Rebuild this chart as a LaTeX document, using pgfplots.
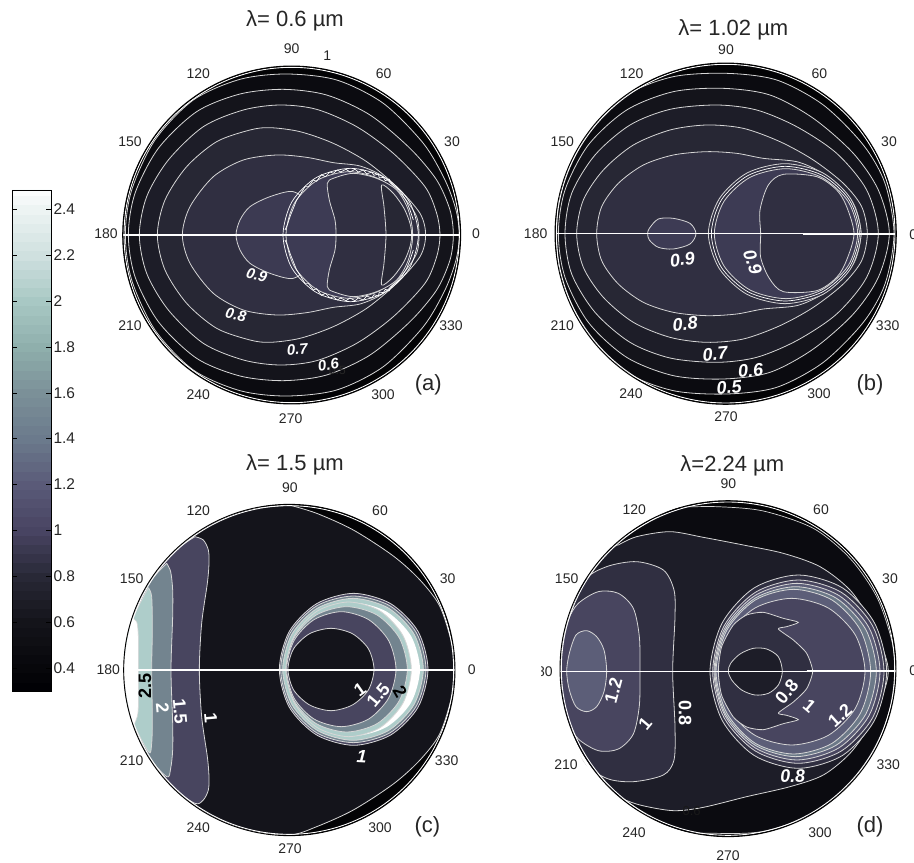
\documentclass[border=0pt]{standalone}
\usepackage{fontspec}
\setmainfont{Liberation Sans}
\usepackage{pgfplots}
\pgfplotsset{compat=1.18}
\definecolor{lc}{HTML}{D6D6D6}
\definecolor{k0}{HTML}{030305}
\definecolor{k1}{HTML}{0B0B10}
\definecolor{k2}{HTML}{14141B}
\definecolor{k3}{HTML}{1D1D28}
\definecolor{k4}{HTML}{272734}
\definecolor{k5}{HTML}{302F41}
\definecolor{k6}{HTML}{3D3B54}
\definecolor{p1}{HTML}{48455F}
\definecolor{p2}{HTML}{5C5E78}
\definecolor{sl}{HTML}{73848F}
\definecolor{te}{HTML}{AECDCA}
\newcommand\cont[2]{\addplot[fill=#1,draw=lc,line width=.8pt,smooth cycle] coordinates {#2};}
\newcommand\ctr[1]{\addplot[draw=white,line width=.7pt,smooth cycle] coordinates {#1};}
\newcommand\wig[1]{\addplot[draw=white,line width=.7pt] coordinates {#1};}
\newcommand\tl[3]{\node[font=\fontsize{14}{16}\selectfont,text=black!85] at (#1,#2) {#3};}
\newcommand\ttl[3]{\node[font=\fontsize{22}{24}\selectfont,text=black!85] at (#1,#2) {#3};}
\newcommand\cl[5]{\node[font=\fontsize{#1}{#1}\selectfont\bfseries\itshape,text=white,rotate=#4] at (#2,#3) {#5};}
\newcommand\rimm[3]{\draw[white,line width=3pt] (axis cs:#1,#2) circle[radius=#3+6];
  \draw[white,line width=.9pt] (axis cs:#1,#2) circle[radius=#3-4];
  \draw[black,line width=.9pt] (axis cs:#1,#2) circle[radius=#3];}
\pgfplotsset{pan/.style={hide axis,scale only axis,clip=false,y dir=reverse,ymin=0,ymax=1200,xmin=0,height=400pt,anchor=south west}}
\begin{document}
\begin{tikzpicture}
\useasboundingbox (0,0) rectangle (914pt,863pt);
%% colour bar
\begin{axis}[at={(12.5pt,172pt)},anchor=south west,scale only axis,width=38.5pt,height=501pt,
  xmin=-0.5,xmax=1.5,ymin=0.3,ymax=2.484,xtick=\empty,
  ytick={0.4,0.6,0.8,1,1.2,1.4,1.6,1.8,2,2.2,2.4},
  ytick pos=both,yticklabel pos=right,tick align=inside,major tick length=5pt,
  tick style={black,line width=.5pt},axis line style={black,line width=.8pt},
  /pgf/number format/assume math mode=true,
  yticklabel style={font=\fontsize{15.5}{17}\selectfont,text=black!85,xshift=-1pt},
  colormap={cb}{rgb255(30pt)=(0,0,4);rgb255(60pt)=(20,20,26);rgb255(80pt)=(40,40,54);rgb255(100pt)=(72,68,98);rgb255(120pt)=(90,90,120);rgb255(140pt)=(107,122,140);rgb255(160pt)=(123,144,152);rgb255(180pt)=(143,175,172);rgb255(200pt)=(168,200,196);rgb255(220pt)=(207,224,223);rgb255(240pt)=(237,244,243);rgb255(250pt)=(255,255,255)},
  point meta min=0.3,point meta max=2.5,axis on top]
\addplot[matrix plot*,mesh/cols=2,point meta=y] coordinates {
(0,0.32)(1,0.32)(0,0.36)(1,0.36)(0,0.40)(1,0.40)(0,0.44)(1,0.44)(0,0.48)(1,0.48)(0,0.52)(1,0.52)(0,0.56)(1,0.56)(0,0.60)(1,0.60)(0,0.64)(1,0.64)(0,0.68)(1,0.68)(0,0.72)(1,0.72)(0,0.76)(1,0.76)(0,0.80)(1,0.80)(0,0.84)(1,0.84)(0,0.88)(1,0.88)(0,0.92)(1,0.92)(0,0.96)(1,0.96)(0,1.00)(1,1.00)(0,1.04)(1,1.04)(0,1.08)(1,1.08)(0,1.12)(1,1.12)(0,1.16)(1,1.16)(0,1.20)(1,1.20)(0,1.24)(1,1.24)(0,1.28)(1,1.28)(0,1.32)(1,1.32)(0,1.36)(1,1.36)(0,1.40)(1,1.40)(0,1.44)(1,1.44)(0,1.48)(1,1.48)(0,1.52)(1,1.52)(0,1.56)(1,1.56)(0,1.60)(1,1.60)(0,1.64)(1,1.64)(0,1.68)(1,1.68)(0,1.72)(1,1.72)(0,1.76)(1,1.76)(0,1.80)(1,1.80)(0,1.84)(1,1.84)(0,1.88)(1,1.88)(0,1.92)(1,1.92)(0,1.96)(1,1.96)(0,2.00)(1,2.00)(0,2.04)(1,2.04)(0,2.08)(1,2.08)(0,2.12)(1,2.12)(0,2.16)(1,2.16)(0,2.20)(1,2.20)(0,2.24)(1,2.24)(0,2.28)(1,2.28)(0,2.32)(1,2.32)(0,2.36)(1,2.36)(0,2.40)(1,2.40)(0,2.44)(1,2.44)(0,2.48)(1,2.48)};
\end{axis}
%% panel a
\begin{axis}[pan,at={(100pt,443pt)},width=400pt,xmax=1200]
\fill[k0] (axis cs:575,645) circle[radius=507];
\cont{k1}{(76,645)(95,510)(165,360)(280,240)(420,178)(560,162)(710,180)(850,250)(970,370)(1035,480)(1068,570)(1078,645)(1068,720)(1035,810)(970,920)(850,1040)(710,1110)(560,1128)(420,1112)(280,1050)(165,930)(95,780)}
\cont{k2}{(85,645)(105,520)(175,385)(290,275)(420,222)(550,208)(680,225)(810,285)(930,385)(1010,480)(1050,570)(1060,645)(1050,720)(1010,810)(930,905)(810,1005)(680,1065)(550,1082)(420,1068)(290,1015)(175,905)(105,770)}
\cont{k3}{(118,645)(140,530)(205,420)(310,320)(430,270)(540,255)(650,268)(770,320)(880,400)(975,500)(1010,580)(1020,645)(1010,710)(975,790)(880,890)(770,970)(650,1022)(540,1035)(430,1020)(310,970)(205,870)(140,760)}
\cont{k4}{(172,645)(195,540)(260,440)(350,365)(450,330)(510,323)(600,335)(700,370)(800,425)(890,500)(960,580)(977,645)(960,710)(890,790)(800,865)(700,920)(600,955)(510,967)(450,960)(350,925)(260,850)(195,750)}
\cont{k5}{(247,645)(270,560)(340,470)(430,420)(530,405)(620,412)(700,428)(780,438)(850,470)(910,530)(950,590)(957,645)(950,700)(910,760)(850,820)(780,852)(700,862)(620,878)(530,885)(430,870)(340,820)(270,730)}
\cont{k6!90!k5}{(408,645)(420,600)(450,560)(510,530)(580,515)(620,560)(620,730)(580,775)(510,760)(450,730)(420,690)}
\cont{k6}{(938,645)(913,550)(843,480)(748,455)(653,480)(583,550)(558,645)(583,740)(653,810)(748,835)(843,810)(913,740)}
\cont{k5}{(682,490)(688,540)(705,600)(708,645)(705,690)(688,750)(682,800)(700,815)(760,830)(830,815)(890,780)(925,720)(938,645)(925,570)(890,510)(830,475)(760,460)(700,475)}
\cont{k4}{(845,495)(852,560)(858,645)(852,730)(845,795)(880,770)(912,725)(930,680)(935,645)(930,610)(912,565)(880,520)}
\ctr{(955,645)(928,545)(853,472)(752,445)(650,472)(576,545)(549,645)(576,745)(650,818)(752,845)(853,818)(928,745)}
\wig{(940,600)(930,570)(920,545)(905,520)(892,505)(870,488)(868,478)(856,482)(850,472)(838,474)(835,462)(822,466)(815,456)(800,462)(790,450)(775,456)(765,448)(750,456)(738,448)(722,456)(712,450)(700,460)(690,456)(676,470)(664,464)(650,484)(640,480)(625,500)(615,500)(600,525)(590,540)(578,570)(570,590)(562,615)(555,630)}
\wig{(940,690)(930,720)(920,745)(905,770)(892,785)(870,802)(868,812)(856,808)(850,818)(838,816)(835,828)(822,824)(815,834)(800,828)(790,840)(775,834)(765,842)(750,834)(738,842)(722,834)(712,840)(700,830)(690,834)(676,820)(664,826)(650,806)(640,810)(625,790)(615,790)(600,765)(590,750)(578,720)(570,700)(562,675)(555,660)}
\addplot[white,line width=1.2pt] coordinates {(70,645)(1080,645)};
\addplot[white,line width=2.2pt] coordinates {(805,645)(1080,645)};
\rimm{575}{645}{507}
\node[font=\fontsize{12}{12}\selectfont,text=black!85] at (712,1052) {0.5};
\cl{15}{470}{765}{-15}{0.9}\cl{15}{408}{885}{-12}{0.8}\cl{15}{592}{988}{5}{0.7}\cl{15}{685}{1034}{10}{0.6}
\ttl{585}{3}{λ= 0.6 µm}
\tl{575}{85}{90}\tl{682}{108}{1}\tl{295}{160}{120}\tl{851}{160}{60}\tl{90}{365}{150}\tl{1056}{365}{30}
\tl{18}{640}{180}\tl{1128}{642}{0}\tl{90}{918}{210}\tl{1053}{918}{330}\tl{295}{1125}{240}\tl{849}{1125}{300}\tl{572}{1197}{270}
\ttl{985}{1095}{(a)}
\end{axis}
%% panel b
\begin{axis}[pan,at={(530pt,443pt)},width=384pt,xmax=1152]
\fill[k0] (axis cs:587,641) circle[radius=512];
\cont{k1}{(80,641)(95,500)(170,345)(290,225)(430,170)(590,160)(740,180)(880,255)(1000,375)(1065,490)(1092,641)(1065,792)(1000,907)(880,1027)(740,1102)(590,1122)(430,1112)(290,1057)(170,937)(95,782)}
\cont{k2}{(85,641)(105,510)(175,375)(290,270)(430,215)(580,205)(720,225)(850,295)(970,400)(1045,510)(1078,641)(1045,772)(970,882)(850,987)(720,1057)(580,1077)(430,1067)(290,1012)(175,907)(105,772)}
\cont{k3}{(105,641)(125,520)(195,405)(300,315)(420,268)(560,255)(680,270)(800,320)(920,400)(1010,510)(1045,641)(1010,772)(920,882)(800,962)(680,1012)(560,1027)(420,1014)(300,967)(195,877)(125,762)}
\cont{k4}{(140,641)(160,540)(220,450)(310,375)(420,330)(530,315)(640,325)(750,365)(850,420)(940,490)(995,560)(1012,641)(995,722)(940,792)(850,862)(750,917)(640,957)(530,967)(420,952)(310,907)(220,832)(160,742)}
\cont{k5}{(200,641)(215,560)(265,490)(340,435)(430,405)(530,395)(620,400)(700,415)(800,425)(870,455)(930,500)(975,560)(993,641)(975,722)(930,782)(870,827)(800,857)(700,867)(620,882)(530,887)(430,877)(340,847)(265,792)(215,722)}
\cont{k6}{(498,641)(480,610)(430,595)(385,597)(358,625)(353,641)(358,660)(385,682)(430,687)(480,672)}
\cont{k5}{(993,641)(962,536)(879,459)(765,431)(651,459)(568,536)(535,641)(568,746)(651,823)(765,851)(879,823)(962,746)}
\cont{k6}{(983,641)(954,544)(875,472)(768,446)(660,472)(582,544)(553,641)(582,738)(660,810)(768,836)(875,810)(954,738)}
\cont{k5}{(692,641)(690,570)(715,495)(760,463)(860,470)(920,510)(950,560)(972,641)(950,720)(920,772)(860,812)(760,815)(718,775)(692,712)}
\ctr{(988,641)(958,540)(877,466)(766,439)(655,466)(574,540)(544,641)(574,742)(655,816)(766,843)(877,816)(958,742)}
\addplot[white,line width=1.2pt] coordinates {(78,641)(1096,641)};
\addplot[white,line width=2pt] coordinates {(820,641)(1096,641)};
\rimm{587}{641}{512}
\cl{18}{457}{718}{8}{0.9}\cl{18}{668}{725}{-70}{0.9}\cl{18}{465}{912}{5}{0.8}\cl{18}{555}{1002}{5}{0.7}\cl{18}{662}{1052}{5}{0.6}\cl{18}{597}{1102}{5}{0.5}
\ttl{610}{28}{λ= 1.02 µm}
\tl{588}{88}{90}\tl{305}{160}{120}\tl{868}{160}{60}\tl{97}{365}{150}\tl{1077}{365}{30}
\tl{17}{640}{180}\tl{1150}{645}{0}\tl{97}{917}{210}\tl{1073}{917}{330}\tl{303}{1120}{240}\tl{867}{1120}{300}\tl{588}{1190}{270}
\ttl{1020}{1095}{(b)}
\end{axis}
%% panel c
\begin{axis}[pan,at={(100pt,13pt)},width=400pt,xmax=1200]
\fill[k0] (axis cs:568,660) circle[radius=497];
\addplot[fill=k2,draw=lc,line width=.8pt,smooth] coordinates {(568,165)(650,190)(760,240)(880,318)(960,390)(1020,470)(1058,590)(1065,660)(1058,730)(1020,850)(960,930)(880,1002)(760,1080)(650,1130)(568,1155)(439,1140)(320,1090)(217,1011)(138,909)(88,789)(71,660)(88,531)(138,411)(217,309)(320,230)(439,180)(568,165)};
\addplot[fill=p1,draw=lc,line width=.8pt,smooth] coordinates {(285,260)(310,270)(325,300)(327,340)(322,400)(305,520)(298,660)(305,800)(322,920)(327,980)(325,1020)(310,1050)(285,1060)(217,1011)(138,909)(88,789)(71,660)(88,531)(138,411)(217,309)(285,260)};
\addplot[fill=sl,draw=lc,line width=.8pt,smooth] coordinates {(200,340)(212,365)(218,420)(218,500)(213,660)(218,820)(218,900)(212,955)(200,980)(138,909)(88,789)(71,660)(88,531)(138,411)(200,340)};
\addplot[fill=te,draw=lc,line width=.8pt,smooth] coordinates {(145,413)(155,440)(157,540)(155,660)(157,800)(155,880)(145,905)(88,789)(71,660)(88,531)(145,413)};
\addplot[fill=white,draw=lc,line width=.6pt,smooth] coordinates {(96,505)(110,515)(115,560)(115,660)(115,770)(110,805)(96,815)(71,660)(96,505)};
\cont{p1}{(984,658)(954,544)(872,461)(761,430)(650,461)(568,544)(538,658)(568,772)(650,855)(761,886)(872,855)(954,772)}
\cont{sl}{(978,658)(949,548)(869,467)(760,438)(651,467)(571,548)(542,658)(571,768)(651,849)(760,878)(869,849)(949,768)}
\cont{te}{(970,658)(942,552)(865,474)(759,445)(653,474)(576,552)(548,658)(576,764)(653,842)(759,871)(865,842)(942,764)}
\addplot[fill=white,draw=none,smooth cycle] coordinates {(960,658)(933,558)(860,485)(760,458)(660,485)(587,558)(560,658)(587,758)(660,831)(760,858)(860,831)(933,758)};
\cont{te}{(934,658)(909,557)(840,483)(746,456)(652,483)(583,557)(558,658)(583,759)(652,833)(746,860)(840,833)(909,759)}
\cont{sl}{(922,658)(898,564)(831,495)(740,470)(649,495)(582,564)(558,658)(582,752)(649,821)(740,846)(831,821)(898,752)}
\cont{p1}{(888,658)(866,572)(806,509)(724,485)(642,509)(582,572)(560,658)(582,744)(642,807)(724,830)(806,807)(866,744)}
\cont{k2}{(822,658)(805,596)(757,551)(693,535)(629,551)(581,596)(564,658)(581,720)(629,765)(693,782)(757,765)(805,720)}
\addplot[white,line width=1.2pt] coordinates {(72,660)(1064,660)};
\addplot[white,line width=2pt] coordinates {(795,660)(1064,660)};
\rimm{568}{660}{497}
\node[font=\fontsize{18}{18}\selectfont\bfseries,text=black,rotate=90] at (135,708) {2.5};
\node[font=\fontsize{18}{18}\selectfont\bfseries,text=white,rotate=-85] at (188,775) {2};
\node[font=\fontsize{18}{18}\selectfont\bfseries,text=white,rotate=-85] at (240,785) {1.5};
\node[font=\fontsize{18}{18}\selectfont\bfseries,text=white,rotate=-85] at (332,805) {1};
\node[font=\fontsize{18}{18}\selectfont\bfseries,text=white,rotate=35] at (780,720) {1};
\node[font=\fontsize{18}{18}\selectfont\bfseries,text=white,rotate=50] at (835,735) {1.5};
\node[font=\fontsize{18}{18}\selectfont\bfseries,text=black,rotate=-60] at (900,725) {2};
\cl{18}{785}{920}{-3}{1}
\ttl{585}{45}{λ= 1.5 µm}
\tl{570}{112}{90}\tl{295}{183}{120}\tl{840}{183}{60}\tl{95}{385}{150}\tl{1043}{385}{30}
\tl{25}{658}{180}\tl{1115}{660}{0}\tl{95}{932}{210}\tl{1040}{932}{330}\tl{295}{1132}{240}\tl{840}{1132}{300}\tl{570}{1197}{270}
\ttl{982}{1130}{(c)}
\end{axis}
%% panel d
\begin{axis}[pan,at={(530pt,13pt)},width=384pt,xmax=1152]
\fill[k0] (axis cs:594,656) circle[radius=504];
\addplot[fill=k1,draw=lc,line width=.7pt,smooth] coordinates {(430,172)(560,170)(700,183)(850,235)(960,325)(1040,440)(1085,570)(1095,664)(1085,757)(1040,887)(960,1002)(850,1092)(700,1144)(560,1150)(430,1140)(300,1062)(238,1012)(158,908)(107,786)(90,656)(107,526)(158,404)(238,300)(300,250)(430,172)};
\addplot[fill=k3,draw=lc,line width=.8pt,smooth] coordinates {(265,285)(320,260)(420,245)(520,262)(640,285)(760,310)(870,350)(960,420)(1020,510)(1060,600)(1075,664)(1060,730)(1020,825)(960,910)(880,975)(780,1010)(650,1040)(520,1072)(430,1082)(330,1065)(265,1040)(238,1012)(158,908)(107,786)(90,656)(107,526)(158,404)(238,300)(265,285)};
\addplot[fill=k5,draw=lc,line width=.8pt,smooth] coordinates {(107,526)(160,395)(230,350)(320,335)(400,360)(432,420)(435,500)(428,664)(435,830)(432,930)(400,975)(310,995)(230,985)(160,932)(107,786)};
\addplot[fill=p1,draw=lc,line width=.8pt,smooth cycle] coordinates {(95,600)(115,510)(145,460)(205,425)(265,430)(310,475)(328,560)(330,664)(328,767)(310,852)(265,897)(205,902)(145,867)(115,817)(95,727)};
\cont{p2}{(230,664)(222,600)(200,560)(170,542)(138,555)(118,610)(110,664)(118,720)(138,770)(170,785)(200,770)(222,725)}
\cont{k5}{(1070,665)(1034,520)(938,414)(805,375)(672,414)(576,520)(540,665)(576,810)(672,916)(805,955)(938,916)(1034,810)}
\cont{p1}{(1062,665)(1028,528)(934,427)(805,390)(676,427)(582,528)(548,665)(582,803)(676,903)(805,940)(934,903)(1028,803)}
\cont{p2}{(1050,665)(1017,533)(926,436)(801,400)(676,436)(585,533)(552,665)(585,797)(676,894)(801,930)(926,894)(1017,797)}
\cont{sl!70!p2}{(1039,665)(1007,538)(918,444)(797,410)(676,444)(587,538)(555,665)(587,793)(676,886)(797,920)(918,886)(1007,793)}
\cont{p2}{(1022,665)(991,540)(906,450)(791,418)(676,450)(591,540)(558,665)(591,790)(676,880)(791,912)(906,880)(991,790)}
\cont{p1}{(1005,665)(976,555)(895,474)(785,445)(675,474)(594,555)(565,665)(594,775)(675,856)(785,885)(895,856)(976,775)}
\addplot[fill=k5,draw=lc,line width=.8pt,smooth cycle,tension=.4] coordinates {(565,664)(575,590)(610,525)(650,495)(700,487)(760,505)(805,517)(770,530)(745,537)(790,570)(830,610)(848,664)(830,716)(790,756)(745,789)(770,796)(805,809)(760,821)(700,839)(650,831)(610,801)(575,736)};
\cont{k3}{(757,664)(745,620)(710,597)(670,595)(630,612)(602,640)(595,664)(605,690)(635,720)(675,735)(715,730)(745,705)}
\addplot[white,line width=1.2pt] coordinates {(90,664)(1098,664)};
\addplot[white,line width=2pt] coordinates {(830,664)(1098,664)};
\rimm{594}{656}{504}
\node[font=\fontsize{18}{18}\selectfont\bfseries,text=white,rotate=75] at (250,722) {1.2};
\node[font=\fontsize{18}{18}\selectfont\bfseries,text=white,rotate=50] at (345,822) {1};
\node[font=\fontsize{18}{18}\selectfont\bfseries,text=white,rotate=-90] at (465,790) {0.8};
\node[font=\fontsize{18}{18}\selectfont\bfseries,text=white,rotate=50] at (770,725) {0.8};
\node[font=\fontsize{18}{18}\selectfont\bfseries,text=white,rotate=-40] at (838,768) {1};
\node[font=\fontsize{18}{18}\selectfont\bfseries,text=white,rotate=42] at (930,795) {1.2};
\cl{18}{788}{978}{3}{0.8}
\node[font=\fontsize{13}{13}\selectfont,text=black!90] at (485,1082) {0.6};
\ttl{607}{47}{λ=2.24 µm}
\tl{595}{102}{90}\tl{313}{178}{120}\tl{873}{178}{60}\tl{110}{385}{150}\tl{1080}{385}{30}
\tl{33}{664}{180}\tl{1150}{662}{0}\tl{108}{943}{210}\tl{1075}{943}{330}\tl{312}{1148}{240}\tl{870}{1148}{300}\tl{594}{1218}{270}
\fill[white] (axis cs:-70,630) rectangle (axis cs:33,700);
\ttl{1020}{1130}{(d)}
\end{axis}
\end{tikzpicture}
\end{document}
